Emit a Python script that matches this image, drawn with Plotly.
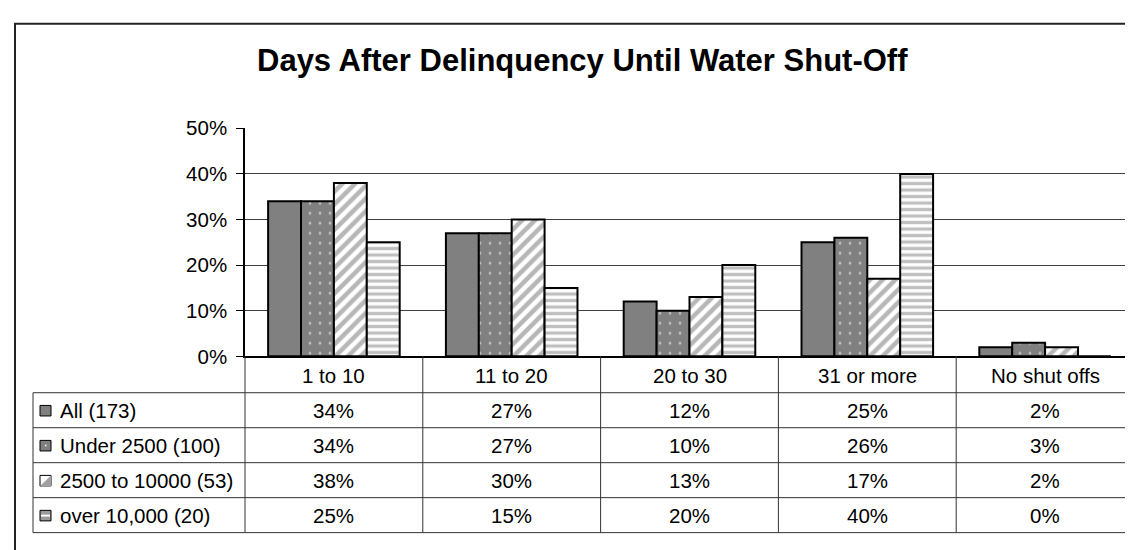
import plotly.graph_objects as go

# ---------------- data ----------------
categories = ['1 to 10', '11 to 20', '20 to 30', '31 or more', 'No shut offs']
series_names = ['All (173)', 'Under 2500 (100)', '2500 to 10000 (53)', 'over 10,000 (20)']
all_173 = [34, 27, 12, 25, 2]
under_2500 = [34, 27, 10, 26, 3]
from_2500_to_10000 = [38, 30, 13, 17, 2]
over_10000 = [25, 15, 20, 40, 0]
y_ticks = [0, 10, 20, 30, 40, 50]
y_tick_text = ['0%', '10%', '20%', '30%', '40%', '50%']

series_values = [all_173, under_2500, from_2500_to_10000, over_10000]

# ---------------- geometry (pixels) ----------------
W, H = 1133, 550
left, right, top, bottom = 237, 1126, 113, 351
table_left = 25
row_lines = [389, 425.5, 462, 498.5, 535]
FONT = 'Liberation Sans, Arial, sans-serif'
FS = 20.5


def px(x):
    return x / W


def py(y):
    return 1 - y / H


styles = [
    dict(color='#808080'),
    dict(color='#808080', pattern=dict(shape='.', bgcolor='#808080', fgcolor='white', size=10, solidity=0.06)),
    dict(color='white', pattern=dict(shape='/', bgcolor='white', fgcolor='#707070', size=9, solidity=0.5)),
    dict(color='white', pattern=dict(shape='-', bgcolor='white', fgcolor='#808080', size=6.5, solidity=0.5)),
]

fig = go.Figure()
for name, vals, st in zip(series_names, series_values, styles):
    marker = dict(st)
    marker['line'] = dict(color='black', width=2)
    fig.add_trace(go.Bar(x=categories, y=vals, name=name, marker=marker, showlegend=False))

shapes = []
annotations = []

# outer chart frame
shapes.append(dict(type='rect', xref='paper', yref='paper', x0=px(7), x1=px(1145), y0=py(565), y1=py(4),
                   line=dict(color='#222222', width=2)))
# right edge of plot area down through the table
shapes.append(dict(type='line', xref='paper', yref='paper', x0=px(right), x1=px(right), y0=py(top), y1=py(535),
                   line=dict(color='#808080', width=1.5)))

# table: vertical column lines
col_w = (right - left) / len(categories)
for k in range(len(categories)):
    xx = left + k * col_w
    shapes.append(dict(type='line', xref='paper', yref='paper', x0=px(xx), x1=px(xx), y0=py(bottom), y1=py(535),
                       line=dict(color='#333333', width=1)))
# label column left edge
shapes.append(dict(type='line', xref='paper', yref='paper', x0=px(table_left), x1=px(table_left),
                   y0=py(row_lines[0]), y1=py(row_lines[-1]), line=dict(color='#333333', width=1)))
# horizontal row lines
for yy in row_lines:
    shapes.append(dict(type='line', xref='paper', yref='paper', x0=px(table_left), x1=px(right), y0=py(yy), y1=py(yy),
                       line=dict(color='#333333', width=1)))

# header labels
for k, cat in enumerate(categories):
    annotations.append(dict(x=px(left + (k + 0.5) * col_w), y=py((bottom + row_lines[0]) / 2 + 1),
                            xref='paper', yref='paper', text=cat, showarrow=False,
                            font=dict(family=FONT, size=FS, color='black'), xanchor='center', yanchor='middle'))

# rows: keys, names, values
key_fill = ['#808080', '#808080', 'white', '#9a9a9a']
for i, (name, vals) in enumerate(zip(series_names, series_values)):
    yc = (row_lines[i] + row_lines[i + 1]) / 2
    shapes.append(dict(type='rect', xref='paper', yref='paper', x0=px(32), x1=px(43), y0=py(yc + 6), y1=py(yc - 5),
                       fillcolor=key_fill[i], line=dict(color='black', width=1)))
    if i == 1:
        shapes.append(dict(type='rect', xref='paper', yref='paper', x0=px(37), x1=px(38.5), y0=py(yc + 1), y1=py(yc - 0.5),
                           fillcolor='white', line=dict(width=0)))
    if i == 2:
        shapes.append(dict(type='path', xref='paper', yref='paper',
                           path=f'M {px(43)} {py(yc - 5)} L {px(43)} {py(yc + 6)} L {px(32)} {py(yc + 6)} Z',
                           fillcolor='#a0a0a0', line=dict(width=0)))
    if i == 3:
        shapes.append(dict(type='rect', xref='paper', yref='paper', x0=px(33), x1=px(42), y0=py(yc + 1.5), y1=py(yc - 0.5),
                           fillcolor='white', line=dict(width=0)))
    annotations.append(dict(x=px(50), y=py(yc), xref='paper', yref='paper', text=name, showarrow=False,
                            font=dict(family=FONT, size=FS, color='black'), xanchor='left', yanchor='middle'))
    for k, v in enumerate(vals):
        annotations.append(dict(x=px(left + (k + 0.5) * col_w), y=py(yc), xref='paper', yref='paper',
                                text=f'{v}%', showarrow=False, font=dict(family=FONT, size=FS, color='black'),
                                xanchor='center', yanchor='middle'))

# title
annotations.append(dict(x=px(574), y=py(42), xref='paper', yref='paper',
                        text='<b>Days After Delinquency Until Water Shut-Off</b>', showarrow=False,
                        font=dict(family=FONT, size=31, color='black'), xanchor='center', yanchor='middle'))

fig.update_layout(
    width=W, height=H,
    margin=dict(l=0, r=0, t=0, b=0),
    paper_bgcolor='white', plot_bgcolor='white',
    barmode='group', bargap=0.26, bargroupgap=0,
    xaxis=dict(domain=[px(left), px(right)], showticklabels=False, showgrid=False, zeroline=False,
               showline=True, linecolor='black', linewidth=1.5, ticks=''),
    yaxis=dict(domain=[py(bottom), py(top)], range=[0, 50], tickvals=y_ticks, ticktext=y_tick_text,
               showgrid=True, gridcolor='#404040', gridwidth=1, zeroline=False,
               showline=True, linecolor='black', linewidth=1.5, ticks='outside', ticklen=7, tickcolor='black',
               tickfont=dict(family=FONT, size=FS, color='black'), ticklabelstandoff=5),
    shapes=shapes,
    annotations=annotations,
)

fig.write_html('out.html')
